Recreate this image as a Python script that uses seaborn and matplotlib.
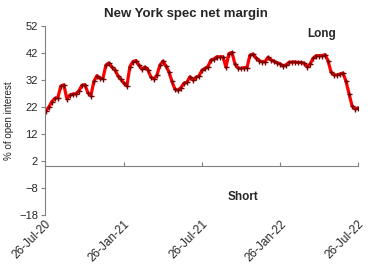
import matplotlib
matplotlib.use("Agg")
import matplotlib.pyplot as plt
import matplotlib.dates as mdates
import seaborn as sns
import pandas as pd
import numpy as np

sns.set_style("white")
plt.rcParams['font.family'] = ['Liberation Sans', 'DejaVu Sans']

start_date = "2020-07-28"
values = [20.6, 22.0, 24.0, 25.2, 25.5, 29.8, 30.2, 25.0, 26.4, 26.8,
          26.9, 28.0, 30.0, 30.3, 27.3, 26.2, 31.5, 33.6, 32.6, 32.5,
          37.5, 38.3, 36.8, 35.8, 33.6, 32.2, 30.8, 29.8, 37.0, 38.8,
          39.2, 37.5, 36.0, 36.8, 35.8, 33.0, 32.4, 33.8, 37.5, 39.0,
          37.2, 35.0, 31.5, 28.6, 28.2, 29.2, 30.8, 31.2, 33.2, 32.0,
          33.0, 33.5, 35.6, 36.3, 37.0, 39.4, 39.8, 40.6, 40.6, 40.6,
          36.8, 41.8, 42.2, 38.0, 36.5, 36.3, 36.6, 36.6, 41.2, 41.6,
          40.2, 39.2, 38.8, 38.8, 40.4, 39.5, 38.9, 38.4, 38.0, 37.2,
          37.6, 38.5, 38.7, 38.7, 38.5, 38.5, 38.2, 37.0, 37.8, 40.0,
          41.0, 41.0, 41.0, 41.4, 39.2, 35.0, 33.9, 33.9, 34.2, 34.6,
          31.5, 27.0, 22.5, 21.3, 21.7]
tick_dates = ["2020-07-26", "2021-01-26", "2021-07-26", "2022-01-26", "2022-07-26"]
yticks = [-18, -8, 2, 12, 22, 32, 42, 52]
title = "New York spec net margin"
ylabel = "% of open interest"

dates = pd.date_range(start_date, periods=len(values), freq="7D")
df = pd.DataFrame({"date": dates, "value": values})

fig = plt.figure(figsize=(3.71, 2.65), dpi=100)
ax = fig.add_axes([45/371, 1-215/265, (358-45)/371, (215-26)/265])

sns.lineplot(data=df, x="date", y="value", ax=ax, color="#FF0000", lw=2.3,
             marker="+", markersize=3.6, markeredgewidth=1.0,
             markeredgecolor="#7A0000")

ax.set_ylim(-18, 52)
ax.set_yticks(yticks)
ax.set_xlim(pd.Timestamp(tick_dates[0]), pd.Timestamp(tick_dates[-1]))
ax.set_xticks([pd.Timestamp(d) for d in tick_dates])
ax.xaxis.set_major_formatter(mdates.DateFormatter("%d-%b-%y"))
ax.tick_params(axis='x', length=0, labelsize=8.5, pad=2)
for lab in ax.get_xticklabels():
    lab.set_rotation(45)
    lab.set_ha('right')
    lab.set_rotation_mode('anchor')
ax.tick_params(axis='y', length=3, width=0.8, color='#808080', labelsize=8, pad=2, direction='out')
ax.yaxis.set_ticks_position('left')

for s in ['top', 'right', 'bottom']:
    ax.spines[s].set_visible(False)
ax.spines['left'].set_color('#808080')
ax.spines['left'].set_linewidth(0.8)

# zero line with tick marks
zero_pos = (0 - (-18)) / (52 - (-18))
sec = ax.secondary_xaxis(zero_pos)
sec.set_xticks([pd.Timestamp(d) for d in tick_dates])
sec.tick_params(axis='x', direction='in', length=3, width=0.8, color='#808080', labelbottom=False, labeltop=False)
sec.spines['bottom'].set_color('#808080')
sec.spines['bottom'].set_linewidth(0.8)
sec.spines['top'].set_color('#808080')
sec.spines['top'].set_linewidth(0.8)
sec.set_xticklabels([])

ax.set_xlabel("")
ax.set_ylabel(ylabel, fontsize=7, labelpad=4)
fig.text(0.5, 1-14/265, title, ha='center', va='center', fontsize=9.5, fontweight='bold')

ax.text(pd.Timestamp("2022-05-03"), 49, "Long", ha='center', va='center', fontsize=8.5, fontweight='bold')
ax.text(pd.Timestamp("2021-10-31"), -11.3, "Short", ha='center', va='center', fontsize=8.5, fontweight='bold')

fig.savefig("out.png", dpi=100)
